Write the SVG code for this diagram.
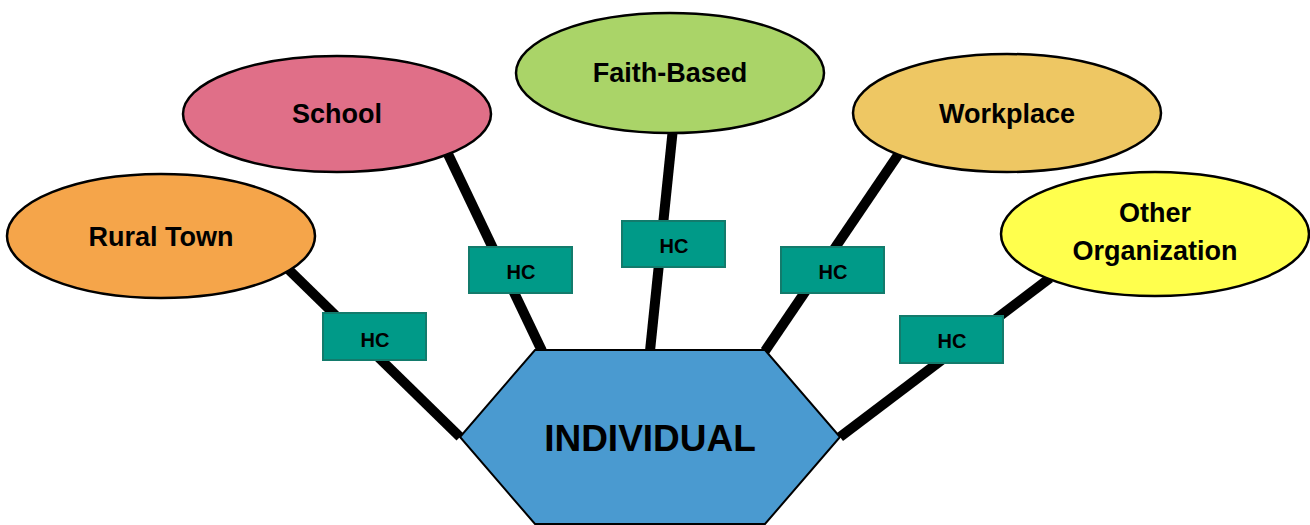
<svg xmlns="http://www.w3.org/2000/svg" width="1310" height="525" viewBox="0 0 1310 525">
<style>
.lbl{font-family:"Liberation Sans",Arial,sans-serif;font-weight:bold;fill:#000;text-anchor:middle}
.ell{stroke:#000;stroke-width:2.5}
.hc{fill:#009A88;stroke:#137B6C;stroke-width:2}
.con{stroke:#000;stroke-width:10;fill:none}
</style>
<rect width="1310" height="525" fill="#fff"/>
<g id="connectors">
<line class="con" x1="287" y1="268" x2="460" y2="437"/>
<line class="con" x1="447" y1="152" x2="542" y2="351"/>
<line class="con" x1="673" y1="128" x2="650" y2="351"/>
<line class="con" x1="900" y1="152" x2="765" y2="351"/>
<line class="con" x1="1050" y1="278" x2="840" y2="437"/>
</g>
<g id="individual">
<polygon points="535,350 765,350 840,437 765,524 535,524 460,437" fill="#4A9AD0" stroke="#000" stroke-width="2"/>
<text class="lbl" x="650" y="451" font-size="37">INDIVIDUAL</text>
</g>
<g id="rural-town">
<ellipse class="ell" cx="161" cy="236" rx="154" ry="62" fill="#F5A54A"/>
<text class="lbl" x="161" y="246" font-size="27">Rural Town</text>
</g>
<g id="school">
<ellipse class="ell" cx="337" cy="114" rx="154" ry="58" fill="#E06F88"/>
<text class="lbl" x="337" y="123" font-size="27">School</text>
</g>
<g id="faith-based">
<ellipse class="ell" cx="670" cy="73" rx="154" ry="60" fill="#AAD468"/>
<text class="lbl" x="670" y="82" font-size="27">Faith-Based</text>
</g>
<g id="workplace">
<ellipse class="ell" cx="1007" cy="113" rx="154" ry="59" fill="#EEC763"/>
<text class="lbl" x="1007" y="123" font-size="27">Workplace</text>
</g>
<g id="other-organization">
<ellipse class="ell" cx="1155" cy="234" rx="154" ry="62" fill="#FFFF4D"/>
<text class="lbl" x="1155" y="222" font-size="27">Other</text>
<text class="lbl" x="1155" y="260" font-size="27">Organization</text>
</g>
<g id="hc-rural">
<rect class="hc" x="323" y="313" width="103" height="47"/>
<text class="lbl" x="375" y="347" font-size="20">HC</text>
</g>
<g id="hc-school">
<rect class="hc" x="469" y="247" width="103" height="46"/>
<text class="lbl" x="521" y="279" font-size="20">HC</text>
</g>
<g id="hc-faith">
<rect class="hc" x="622" y="221" width="103" height="46"/>
<text class="lbl" x="674" y="253" font-size="20">HC</text>
</g>
<g id="hc-workplace">
<rect class="hc" x="781" y="247" width="103" height="46"/>
<text class="lbl" x="833" y="279" font-size="20">HC</text>
</g>
<g id="hc-other">
<rect class="hc" x="900" y="316" width="103" height="47"/>
<text class="lbl" x="952" y="348" font-size="20">HC</text>
</g>
</svg>
